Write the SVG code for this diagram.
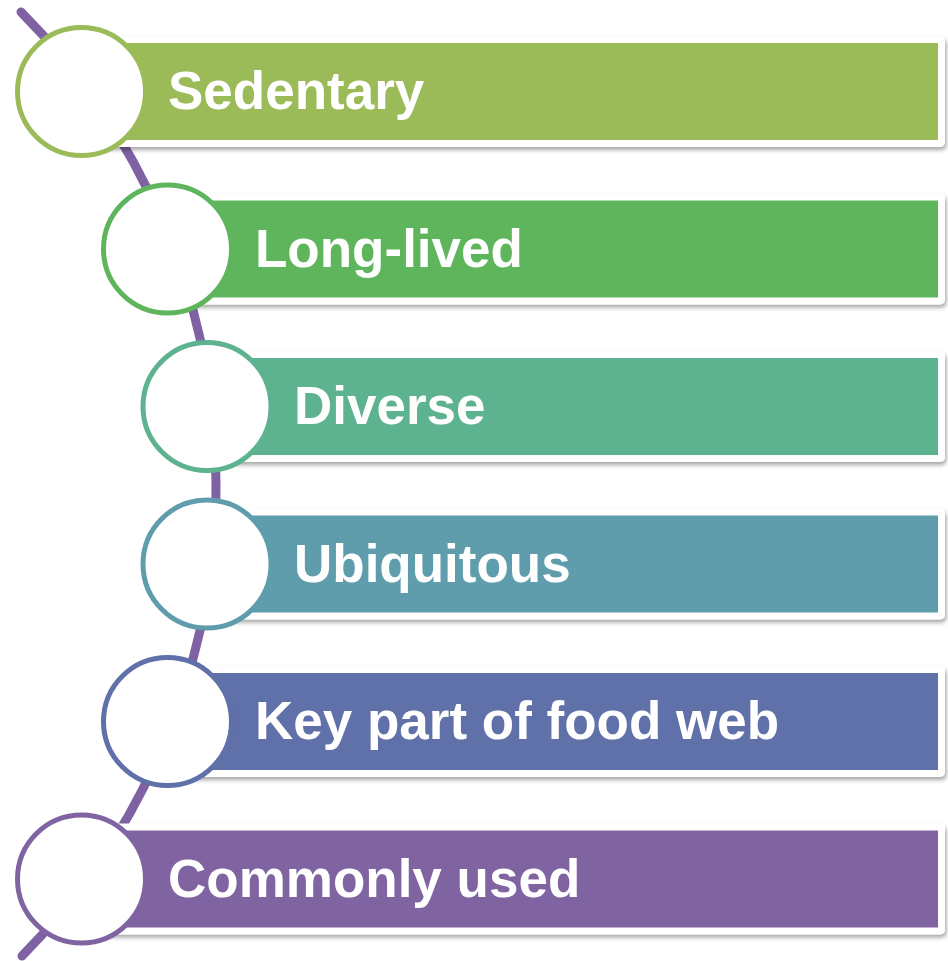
<svg xmlns="http://www.w3.org/2000/svg" width="948" height="961" viewBox="0 0 948 961">
<defs>
<filter id="sh" x="-5%" y="-20%" width="110%" height="150%">
<feDropShadow dx="1.5" dy="3" stdDeviation="2" flood-color="#000" flood-opacity="0.35"/>
</filter>
<style>
.frame{fill:#fff;filter:url(#sh)}
.lbl{font-family:"Liberation Sans",Arial,sans-serif;font-weight:bold;font-size:53px;fill:#fff}
.ring{fill:#fff;stroke-width:5}
</style>
</defs>
<rect width="948" height="961" fill="#fff"/>
<g id="connectors">
<path d="M21 12 A670 670 0 0 1 22 956" fill="none" stroke="#7F62A3" stroke-width="9" stroke-linecap="round"/>
</g>
<g id="n1">
<rect class="frame" x="82" y="36" width="863" height="111" rx="5"/>
<rect x="82" y="43" width="856" height="97" fill="#9BBB59"/>
<circle class="ring" cx="81.5" cy="91.5" r="64" stroke="#9BBB59"/>
<text class="lbl" x="168" y="109">Sedentary</text>
</g>
<g id="n2">
<rect class="frame" x="168" y="193.5" width="777" height="111" rx="5"/>
<rect x="168" y="200.5" width="770" height="97" fill="#5EB55C"/>
<circle class="ring" cx="167.5" cy="249" r="64" stroke="#5EB55C"/>
<text class="lbl" x="255" y="266.5">Long-lived</text>
</g>
<g id="n3">
<rect class="frame" x="207" y="351" width="738" height="111" rx="5"/>
<rect x="207" y="358" width="731" height="97" fill="#5DB28F"/>
<circle class="ring" cx="207" cy="406.5" r="64" stroke="#5DB28F"/>
<text class="lbl" x="294" y="424">Diverse</text>
</g>
<g id="n4">
<rect class="frame" x="207" y="508.5" width="738" height="111" rx="5"/>
<rect x="207" y="515.5" width="731" height="97" fill="#5F9DAC"/>
<circle class="ring" cx="207" cy="564" r="64" stroke="#5F9DAC"/>
<text class="lbl" x="294" y="581.5">Ubiquitous</text>
</g>
<g id="n5">
<rect class="frame" x="168" y="666" width="777" height="111" rx="5"/>
<rect x="168" y="673" width="770" height="97" fill="#6070A8"/>
<circle class="ring" cx="167.5" cy="721.5" r="64" stroke="#6070A8"/>
<text class="lbl" x="255" y="739">Key part of food web</text>
</g>
<g id="n6">
<rect class="frame" x="82" y="823.5" width="863" height="111" rx="5"/>
<rect x="82" y="830.5" width="856" height="97" fill="#8064A2"/>
<circle class="ring" cx="81.5" cy="879" r="64" stroke="#8064A2"/>
<text class="lbl" x="168" y="896.5">Commonly used</text>
</g>
</svg>
